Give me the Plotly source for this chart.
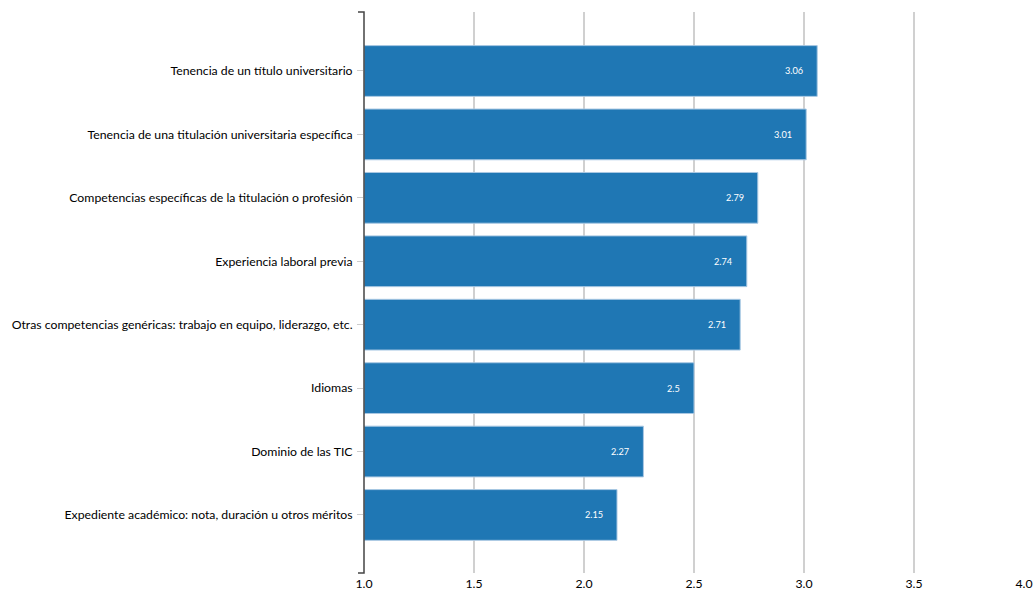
import plotly.graph_objects as go

categories = [
    "Tenencia de un título universitario",
    "Tenencia de una titulación universitaria específica",
    "Competencias específicas de la titulación o profesión",
    "Experiencia laboral previa",
    "Otras competencias genéricas: trabajo en equipo, liderazgo, etc.",
    "Idiomas",
    "Dominio de las TIC",
    "Expediente académico: nota, duración u otros méritos",
]
values = [3.06, 3.01, 2.79, 2.74, 2.71, 2.5, 2.27, 2.15]
x_ticks = [1.0, 1.5, 2.0, 2.5, 3.0, 3.5, 4.0]
x_tick_labels = ["1.0", "1.5", "2.0", "2.5", "3.0", "3.5", "4.0"]
axis_min = 1.0

BAR = "#1f77b4"
FONT = "Lato, 'Open Sans', sans-serif"

fig = go.Figure()
fig.add_trace(go.Bar(
    y=categories, x=[v - axis_min for v in values], base=axis_min,
    orientation="h",
    marker=dict(color=BAR, line=dict(color="#a9c8e3", width=1)),
    width=0.8, hoverinfo="y",
))

for c, v in zip(categories, values):
    fig.add_annotation(
        x=v, y=c, xref="x", yref="y", text=str(v), showarrow=False,
        xanchor="right", xshift=-12,
        font=dict(family=FONT, size=9.2, color="white"),
    )

# y-axis domain path with outer ticks
fig.add_shape(
    type="path", xref="paper", yref="paper", xsizemode="pixel", xanchor=0,
    path="M -6,0 H 0 V 1 H -6",
    line=dict(color="#444", width=1.5), layer="above",
)

fig.update_layout(
    width=1034, height=590,
    margin=dict(l=364, r=10, t=12, b=17, autoexpand=False),
    paper_bgcolor="white", plot_bgcolor="white",
    showlegend=False,
    font=dict(family=FONT, size=12.25, color="#000"),
    xaxis=dict(
        range=[1.0, 4.0], tickvals=x_ticks, ticktext=x_tick_labels,
        showgrid=True, gridcolor="#d0d0d0", gridwidth=1.5,
        zeroline=False, showline=False, ticks="", ticklabelstandoff=2,
        tickfont=dict(family=FONT, size=12.25, color="#000"),
        automargin=False,
    ),
    yaxis=dict(
        type="category", categoryorder="array", categoryarray=categories,
        range=[7.915, -0.93],
        showgrid=False, zeroline=False, showline=False,
        ticks="outside", ticklen=6, tickcolor="#cccccc", tickwidth=1,
        tickfont=dict(family=FONT, size=12.25, color="#000"),
        ticklabelstandoff=2, automargin=False,
    ),
    bargap=0.2,
)

fig.write_html(
    "out.html",
    config={"displayModeBar": False},
    post_script="document.body.style.margin='0';document.body.style.overflow='hidden';",
)
